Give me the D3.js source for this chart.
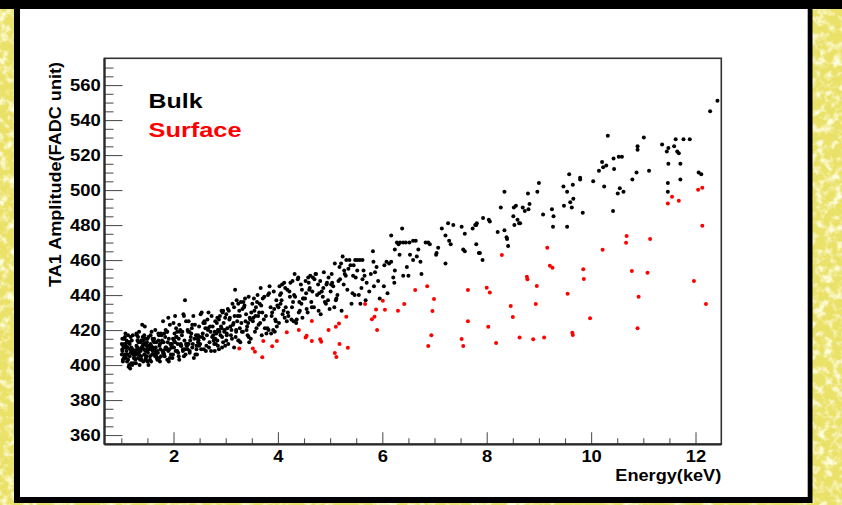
<!DOCTYPE html>
<html>
<head>
<meta charset="utf-8">
<script src="https://cdn.jsdelivr.net/npm/d3@7"></script>
<style>
  html, body { margin: 0; padding: 0; background: #fff; }
  svg { display: block; }
  text { font-family: "Liberation Sans", Arial, Helvetica, sans-serif; font-weight: bold; }
</style>
</head>
<body>
<svg id="chart" width="842" height="505"></svg>
<script>
// Axis ranges and tick labels
const energyRange = [0.678, 12.494];
const amplitudeRange = [354.7, 575.3];
const xTicks = [2, 4, 6, 8, 10, 12];
const yTicks = [360, 380, 400, 420, 440, 460, 480, 500, 520, 540, 560];
const xTitle = "Energy(keV)";
const yTitle = "TA1 Amplitude(FADC unit)";
const legendLabels = ["Bulk", "Surface"];

// Bulk events: [energy (keV), TA1 amplitude (FADC unit)]
const bulk = [
  // 1.0 - 1.5 keV
  [1.07,405],[1.02,409],[1.16,412],[1.03,403],[1.21,407],[1.05,415],[1.12,410],[1.19,401],[1.01,406],[1.14,413],
  [1.24,408],[1.09,404],[1.04,411],[1.18,416],[1.11,402],[1.22,409],[1.06,406],[1.15,413],[1.14,399],[1.08,410],
  [1.25,404],[1.02,408],[1.17,398],[1.10,414],[1.23,406],[1.04,411],[1.13,403],[1.20,409],[1.07,416],[1.16,405],
  [1.01,412],[1.23,401],[1.10,408],[1.19,410],[1.05,404],[1.13,417],[1.22,417],[1.08,418],[1.15,400],[1.03,402],
  [1.21,400],[1.18,407],[1.06,412],[1.12,406],[1.24,404],[1.17,409],[1.09,411],[1.20,414],[1.02,415],[1.11,413],
  [1.33,407],[1.41,411],[1.27,403],[1.46,415],[1.30,409],[1.38,405],[1.49,413],[1.35,400],[1.26,408],[1.44,417],
  [1.29,411],[1.47,404],[1.36,409],[1.31,414],[1.42,402],[1.27,407],[1.45,412],[1.34,419],[1.48,405],[1.40,410],
  [1.40,423],[1.28,401],[1.37,408],[1.50,415],[1.32,404],[1.43,412],[1.45,422],[1.26,407],[1.39,410],[1.47,403],
  [1.30,417],[1.35,409],[1.49,409],[1.28,406],[1.44,406],[1.33,413],[1.41,416],[1.36,403],[1.31,410],[1.48,411],
  [1.38,414],[1.29,418],[1.46,408],[1.34,406],[1.42,414],[1.50,402],[1.39,403],[1.32,416],[1.43,409],[1.37,413],
  // 1.5 - 2.0 keV
  [1.58,409],[1.52,400],[1.67,413],[1.55,405],[1.72,417],[1.61,410],[1.51,407],[1.69,403],[1.56,412],[1.64,408],
  [1.58,419],[1.73,404],[1.53,411],[1.66,406],[1.60,415],[1.75,409],[1.57,402],[1.63,413],[1.65,420],[1.70,407],
  [1.54,411],[1.68,404],[1.62,409],[1.52,416],[1.74,412],[1.59,406],[1.71,418],[1.55,403],[1.66,410],[1.61,414],
  [1.69,408],[1.57,411],[1.73,411],[1.63,415],[1.51,409],[1.67,405],[1.59,410],[1.71,414],[1.54,409],[1.65,405],
  [1.62,406],[1.56,417],[1.74,402],[1.68,407],[1.60,408],
  [1.83,405],[1.78,413],[1.92,409],[1.77,417],[1.80,425],[1.88,403],[1.96,411],[1.81,407],[1.99,415],[1.86,410],
  [1.85,420],[1.76,405],[1.94,412],[1.79,408],[1.91,402],[1.84,416],[1.90,427],[1.97,410],[1.82,406],[1.89,413],
  [1.93,423],[1.98,404],[1.87,409],[1.76,418],[1.95,412],[1.80,407],[1.91,415],[1.85,410],[2.00,424],[1.93,404],
  [1.88,419],[1.78,414],[1.97,412],[1.84,409],[1.99,406],[1.81,413],[1.95,406],[1.87,419],[1.90,408],[1.82,418],
  // 2.0 - 2.5 keV
  [2.07,408],[2.01,414],[2.03,428],[2.14,411],[2.20,405],[2.02,418],[2.18,409],[2.10,415],[2.05,421],[2.23,406],
  [2.08,412],[2.16,417],[2.01,410],[2.11,403],[2.21,414],[2.04,408],[2.13,420],[2.24,412],[2.19,429],[2.09,407],
  [2.20,428],[2.06,416],[2.15,411],[2.22,437],[2.12,419],[2.24,425],[2.03,413],[2.17,419],[2.25,411],[2.05,416],
  [2.10,405],[2.22,409],[2.14,412],[2.11,423],[2.07,419],[2.18,408],
  [2.33,416],[2.27,409],[2.41,423],[2.26,412],[2.45,406],[2.30,419],[2.48,414],[2.36,410],[2.29,425],[2.43,417],
  [2.31,407],[2.47,413],[2.35,421],[2.26,411],[2.39,404],[2.50,416],[2.28,419],[2.44,409],[2.38,428],[2.32,414],
  [2.49,422],[2.37,412],[2.42,406],[2.34,418],[2.46,415],[2.40,415],[2.27,420],[2.47,417],[2.31,408],[2.44,411],
  [2.36,423],[2.29,412],[2.49,411],
  // 2.5 - 3.0 keV
  [2.52,429],[2.51,412],[2.56,418],[2.54,430],[2.53,409],[2.61,421],[2.58,415],[2.57,424],[2.63,411],[2.60,424],
  [2.66,420],[2.62,408],[2.64,417],[2.69,413],[2.65,426],[2.71,419],[2.68,410],[2.67,430],[2.74,416],[2.70,422],
  [2.77,414],[2.72,408],[2.79,419],[2.73,428],[2.75,422],[2.81,412],[2.76,417],[2.55,416],[2.59,425],[2.78,412],
  [2.58,409],[2.66,421],
  [2.83,424],[2.80,415],[2.86,420],[2.80,425],[2.85,411],[2.82,418],[2.88,419],[2.84,414],[2.91,422],[2.87,409],
  [2.87,426],[2.93,416],[2.89,428],[2.90,417],[2.95,413],[2.92,421],[2.92,431],[2.97,419],[2.94,430],[2.95,431],
  [2.99,411],[2.96,424],[3.02,417],[2.99,427],[3.01,414],[2.79,408],[2.85,420],[2.93,410],[2.84,427],[2.98,420],
  // 3.0 - 3.5 keV
  [3.09,422],[3.02,418],[3.17,428],[3.05,412],[3.22,425],[3.11,420],[3.04,432],[3.19,416],[3.14,423],[3.01,429],
  [3.24,414],[3.07,426],[3.20,419],[3.13,435],[3.03,421],[3.16,410],[3.23,428],[3.18,443],[3.10,417],[3.06,431],
  [3.21,437],[3.15,424],[3.25,414],[3.24,435],[3.08,427],[3.12,415],[3.16,433],[3.20,420],
  [3.31,419],[3.26,431],[3.38,425],[3.29,436],[3.44,416],[3.27,428],[3.41,422],[3.35,433],[3.28,413],[3.47,426],
  [3.33,419],[3.37,438],[3.49,430],[3.30,424],[3.42,417],[3.36,434],[3.46,427],[3.27,421],[3.44,439],[3.39,429],
  [3.48,415],[3.32,432],[3.43,424],[3.34,436],[3.40,420],[3.45,413],
  // 3.5 - 4.0 keV
  [3.62,428],[3.51,435],[3.78,418],[3.55,431],[3.83,441],[3.66,424],[3.58,433],[3.91,420],[3.71,438],[3.53,427],
  [3.87,418],[3.64,430],[3.67,444],[3.96,425],[3.60,436],[3.75,421],[3.93,432],[3.57,428],[3.81,440],[3.69,417],
  [3.99,434],[3.73,426],[3.54,438],[3.89,430],[3.63,423],[3.84,445],[3.68,434],[3.94,419],[3.77,428],[3.61,440],
  [3.86,433],[3.52,425],[3.97,437],[3.70,430],[3.92,442],[3.80,421],[3.65,435],[3.88,428],[3.74,439],[3.56,419],
  [3.82,420],[3.98,422],[3.59,421],[3.95,426],
  // 4.0 - 4.5 keV
  [4.11,431],[4.03,445],[4.26,426],[4.07,437],[4.38,449],[4.15,433],[4.02,424],[4.31,440],[4.19,430],[4.44,446],
  [4.05,435],[4.35,424],[4.22,442],[4.48,438],[4.09,429],[4.28,448],[4.41,436],[4.13,427],[4.46,443],[4.01,433],
  [4.33,439],[4.17,425],[4.24,447],[4.42,431],[4.06,441],[4.29,436],[4.39,450],[4.20,428],[4.14,444],[4.49,438],
  [4.27,433],[4.12,447],[4.36,426],[4.04,440],[4.45,435],[4.32,452],[4.18,443],[4.40,430],[4.23,439],[4.08,446],
  [4.47,427],[4.30,425],
  // 4.5 - 5.0 keV
  [4.64,436],[4.53,448],[4.79,441],[4.57,430],[4.88,453],[4.61,444],[4.96,437],[4.70,449],[4.55,432],[4.84,442],
  [4.67,450],[4.92,435],[4.59,447],[4.75,440],[4.99,432],[4.62,451],[4.87,444],[4.52,438],[4.73,452],[4.94,447],
  [4.82,429],[4.66,442],[4.58,450],[4.90,436],[4.77,446],[4.54,441],[4.97,450],[4.69,433],[4.81,448],[4.60,443],
  [4.86,439],[4.72,452],[4.93,446],[4.78,431],[4.65,433],
  // 5.0 - 6.0 keV
  [5.14,440],[5.03,452],[5.26,446],[5.08,433],[5.39,457],[5.19,449],[5.01,442],[5.31,460],[5.11,437],[5.44,451],
  [5.06,445],[5.22,431],[5.35,455],[5.16,448],[5.47,440],[5.09,458],[5.28,452],[5.41,435],[5.24,462],[5.04,447],
  [5.33,443],[5.18,456],[5.49,450],[5.12,438],[5.37,460],[5.27,454],[5.02,446],[5.43,441],[5.21,458],[5.30,451],
  [5.48,460],[5.52,460],[5.57,460],[5.62,460],[5.52,454],[5.64,454],[5.66,451],[5.62,449],[5.55,440],[5.82,465],
  [5.83,459],[5.89,456],[5.86,453],[5.84,445],[5.45,457],[5.70,447],[5.75,442],[5.60,444],[5.78,452],[5.92,448],
  [5.95,438],[5.68,437],[5.58,435],
  // 6.0 - 7.0 keV
  [6.03,445],[6.04,457],[6.08,459],[6.13,458],[6.17,459],[6.21,450],[6.23,447],[6.17,474],[6.38,478],[6.28,470],
  [6.31,469],[6.34,470],[6.40,470],[6.45,470],[6.52,470],[6.59,471],[6.64,471],[6.33,463],[6.47,456],[6.50,451],
  [6.40,451],[6.66,462],[6.59,460],[6.83,470],[6.88,470],[6.91,469],[6.24,454],[6.53,463],[6.73,459],[6.69,466],
  [6.24,466],[6.10,441],[6.75,452],
  // 7.0 - 8.0 keV
  [7.07,467],[7.04,464],[7.03,463],[7.14,478],[7.26,481],[7.36,480],[7.52,479],[7.58,475],[7.78,480],[7.81,481],
  [7.21,474],[7.28,471],[7.31,469],[7.55,466],[7.58,465],[7.85,464],[7.21,458],[7.73,478],[7.80,480],[7.80,469],
  [7.87,464],[7.92,460],[7.93,484],
  // 8.0 - 9.0 keV
  [8.04,483],[8.06,482],[8.21,476],[8.34,477],[8.38,473],[8.39,472],[8.41,468],[8.27,490],[8.34,499],[8.52,490],
  [8.56,491],[8.51,485],[8.59,483],[8.62,481],[8.64,481],[8.53,480],[8.69,490],[8.73,488],[8.80,489],[8.82,492],
  [8.79,498],[8.97,499],
  // 9.0 - 10.0 keV
  [9.00,504],[9.08,486],[9.25,489],[9.28,485],[9.27,479],[9.47,502],[9.54,499],[9.58,509],[9.65,503],[9.48,491],
  [9.60,493],[9.63,490],[9.66,495],[9.54,479],[9.79,507],[9.79,506],[9.84,487],
  // 10.0 - 11.0 keV
  [10.04,505],[10.15,511],[10.21,516],[10.23,513],[10.29,514],[10.25,502],[10.32,531],[10.43,518],[10.53,519],
  [10.59,519],[10.44,512],[10.51,498],[10.55,501],[10.62,499],[10.42,488],[10.79,506],[10.87,510],[10.89,525],
  [10.89,523],[11.01,530],
  // 11.0 - 12.5 keV
  [11.11,511],[11.36,526],[11.45,522],[11.48,524],[11.48,515],[11.47,504],[11.47,499],[11.59,525],[11.62,529],
  [11.77,529],[11.89,529],[11.65,522],[11.68,521],[11.71,515],[11.71,506],[12.06,510],[12.11,509],[12.28,545],
  [12.42,551]
];

// Surface events: [energy (keV), TA1 amplitude (FADC unit)]
const surface = [
  [3.26,409.5],[3.52,409.5],[3.56,407.6],[3.70,404.4],[3.72,413.7],[3.89,410.7],[3.98,413.7],[4.17,418.7],
  [4.40,420.0],[4.55,416.7],[4.53,415.8],[4.65,413.7],[4.81,414.7],[4.83,413.3],[4.65,425.1],[4.97,420.0],
  [5.11,421.9],[5.17,423.8],[5.31,427.6],[5.18,412.0],[5.34,409.9],[5.09,406.9],[5.12,404.6],[5.67,434.9],
  [5.88,431.8],[5.85,427.6],[5.80,426.1],[5.90,420.0],[6.01,436.7],[6.05,431.6],[6.30,431.0],[6.42,434.9],
  [6.63,442.9],[6.86,445.0],[6.99,437.7],[6.96,430.9],[6.94,417.0],[6.88,410.9],[7.64,442.9],[7.64,425.0],
  [7.52,414.9],[7.55,410.9],[8.29,462.9],[8.00,444.2],[8.06,441.5],[8.77,450.5],[8.78,449.0],[8.96,445.1],
  [8.46,433.7],[8.50,427.4],[8.94,434.9],[8.03,421.9],[8.18,412.6],[8.63,415.8],[8.89,414.7],[9.10,415.8],
  [9.16,467.0],[9.21,456.7],[9.26,455.6],[9.55,440.7],[9.85,454.7],[9.86,449.1],[9.98,426.7],[9.64,418.5],
  [9.65,417.1],[10.22,465.9],[10.68,473.7],[10.67,469.9],[11.13,472.0],[10.78,453.7],[11.08,452.7],[10.91,439.0],
  [10.89,421.0],[11.47,492.3],[11.55,496.2],[11.68,493.9],[12.05,500.2],[12.13,501.3],[12.13,479.6],[11.97,448.0],
  [12.20,434.9]
];

const W = 842, H = 505;
const plot = { left: 104.5, right: 721.3, top: 58.3, bottom: 444.3 };
const svg = d3.select("#chart");

// Textured yellow slide background
const defs = svg.append("defs");
const grain = defs.append("filter").attr("id", "grain")
  .attr("x", 0).attr("y", 0).attr("width", "100%").attr("height", "100%");
grain.append("feTurbulence").attr("type", "fractalNoise")
  .attr("baseFrequency", 0.12).attr("numOctaves", 3).attr("seed", 7).attr("result", "n");
grain.append("feColorMatrix").attr("in", "n").attr("type", "matrix")
  .attr("values", "0 0 0 0 0.99  0 0 0 0 0.98  0 0 0 0 0.72  3.2 0 0 0 -1.45");

svg.append("rect").attr("width", W).attr("height", H).attr("fill", "#EAE168");
svg.append("rect").attr("width", W).attr("height", H).attr("filter", "url(#grain)");

// Black frame and white canvas
svg.append("rect").attr("x", 0).attr("y", 0).attr("width", W).attr("height", 9).attr("fill", "#000");
svg.append("rect").attr("x", 14).attr("y", 0).attr("width", 798.5).attr("height", 503).attr("fill", "#000");
svg.append("rect").attr("x", 20).attr("y", 9).attr("width", 787.7).attr("height", 488).attr("fill", "#fff");

// Scales
const x = d3.scaleLinear().domain(energyRange).range([plot.left, plot.right]);
const y = d3.scaleLinear().domain(amplitudeRange).range([plot.bottom, plot.top]);

const labelFont = 16;
const stretch = 1.15;

// Minor ticks
const xMinor = d3.range(1, 12.5, 0.5).filter(v => !xTicks.includes(v));
const yMinor = d3.range(360, 575, 5).filter(v => !yTicks.includes(v));

svg.append("g").attr("transform", `translate(0,${plot.bottom})`)
  .call(d3.axisBottom(x).tickValues(xMinor).tickSize(-6).tickFormat(""))
  .call(g => g.select(".domain").remove())
  .call(g => g.selectAll("line").attr("stroke", "#555").attr("stroke-width", 1.1));

svg.append("g").attr("transform", `translate(${plot.left},0)`)
  .call(d3.axisLeft(y).tickValues(yMinor).tickSize(-9).tickFormat(""))
  .call(g => g.select(".domain").remove())
  .call(g => g.selectAll("line").attr("stroke", "#555").attr("stroke-width", 1.1));

// Major ticks with labels
const gx = svg.append("g").attr("transform", `translate(0,${plot.bottom})`)
  .call(d3.axisBottom(x).tickValues(xTicks).tickSize(-12).tickSizeOuter(0).tickPadding(6).tickFormat(d3.format("d")));
const gy = svg.append("g").attr("transform", `translate(${plot.left},0)`)
  .call(d3.axisLeft(y).tickValues(yTicks).tickSize(-18).tickSizeOuter(0).tickPadding(3.3).tickFormat(d3.format("d")));

[gx, gy].forEach(g => {
  g.attr("font-family", null).attr("font-size", null);
  g.selectAll(".tick line").attr("stroke", "#555").attr("stroke-width", 1.1);
  g.selectAll(".tick text").attr("fill", "#000").attr("font-size", labelFont)
    .attr("transform", `scale(${stretch},1)`);
  g.select(".domain").remove();
});

// Frame of the plotting area
svg.append("rect")
  .attr("x", plot.left).attr("y", plot.top)
  .attr("width", plot.right - plot.left).attr("height", plot.bottom - plot.top)
  .attr("fill", "none").attr("stroke", "#333").attr("stroke-width", 1.6);
svg.append("line").attr("x1", plot.left).attr("x2", plot.left).attr("y1", plot.top).attr("y2", plot.bottom)
  .attr("stroke", "#2a2a2a").attr("stroke-width", 2.2);
svg.append("line").attr("x1", plot.left).attr("x2", plot.right).attr("y1", plot.bottom).attr("y2", plot.bottom)
  .attr("stroke", "#2a2a2a").attr("stroke-width", 2.2);

// Axis titles
svg.append("text")
  .attr("x", plot.right).attr("y", 481)
  .attr("text-anchor", "end").attr("font-size", 16).attr("fill", "#000")
  .attr("textLength", 106).attr("lengthAdjust", "spacingAndGlyphs")
  .text(xTitle);

svg.append("text")
  .attr("transform", "translate(61,287) rotate(-90)")
  .attr("text-anchor", "start").attr("font-size", 16).attr("fill", "#000")
  .attr("textLength", 225).attr("lengthAdjust", "spacingAndGlyphs")
  .text(yTitle);

// Data points
svg.append("g").selectAll("circle").data(bulk).join("circle")
  .attr("cx", d => x(d[0])).attr("cy", d => y(d[1])).attr("r", 2).attr("fill", "#000");
svg.append("g").selectAll("circle").data(surface).join("circle")
  .attr("cx", d => x(d[0])).attr("cy", d => y(d[1])).attr("r", 2).attr("fill", "#ff0000");

// Legend
const legendColors = ["#000", "#ff0000"];
const legendWidths = [54, 93];
svg.append("g").selectAll("text").data(legendLabels).join("text")
  .attr("x", 148.5).attr("y", (d, i) => 108 + i * 29)
  .attr("font-size", 21).attr("fill", (d, i) => legendColors[i])
  .attr("textLength", (d, i) => legendWidths[i]).attr("lengthAdjust", "spacingAndGlyphs")
  .text(d => d);
</script>
</body>
</html>
